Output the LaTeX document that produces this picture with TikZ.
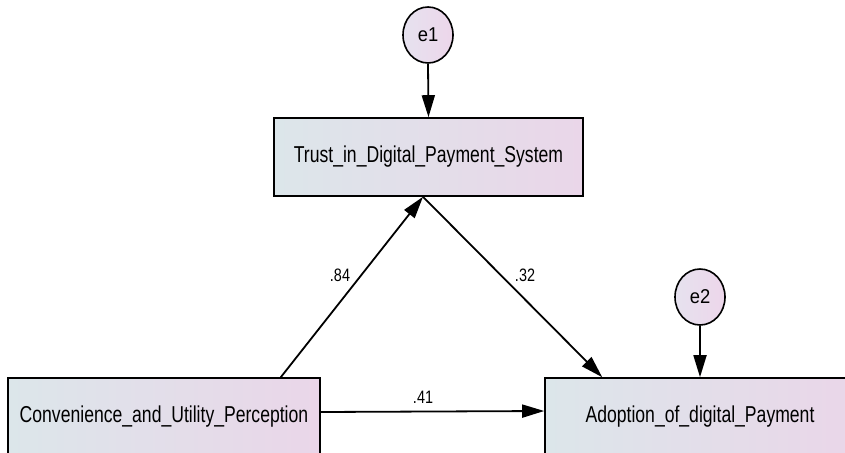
\documentclass[tikz,border=0pt]{standalone}
\usepackage{fontspec}
\setmainfont{Liberation Sans}
\newfontfamily\narrowfont[FakeStretch=0.765]{Liberation Sans}
\newfontfamily\labelfont[FakeStretch=0.8]{Liberation Sans}
\newfontfamily\errfont[FakeStretch=0.92]{Liberation Sans}
\usetikzlibrary{arrows.meta,shapes.geometric}

\definecolor{boxL}{HTML}{DCE6EA}
\definecolor{boxR}{HTML}{EAD6E9}
\definecolor{ellL}{HTML}{E6E2EF}
\definecolor{ellR}{HTML}{EDD6EA}

\tikzset{
  varbox/.style={draw=black, line width=1.6pt, rectangle, left color=boxL, right color=boxR,
    minimum width=309pt, minimum height=78pt, inner sep=0pt,
    font=\narrowfont\fontsize{23}{26}\selectfont},
  errvar/.style={draw=black, line width=1.6pt, ellipse, left color=ellL, right color=ellR,
    minimum width=50pt, minimum height=56pt, inner sep=0pt,
    font=\errfont\fontsize{20}{22}\selectfont},
  path/.style={draw=black, line width=1.8pt, -{Triangle[length=22pt,width=13pt]}},
  coef/.style={font=\labelfont\fontsize{18}{20}\selectfont, inner sep=0pt}
}

\begin{document}
\begin{tikzpicture}[x=1pt, y=-1pt]
  \useasboundingbox (0,0) rectangle (845,452);
  \fill[white] (0,0) rectangle (845,452);

  % observed variables
  \node[varbox] (trust) at (428.5,157) {Trust\_in\_Digital\_Payment\_System};
  \node[varbox, minimum width=312pt] (conv) at (164,417) {Convenience\_and\_Utility\_Perception};
  \node[varbox, minimum width=310pt] (adopt) at (700,417) {Adoption\_of\_digital\_Payment};

  % error terms
  \node[errvar] (e1) at (428,35) {e1};
  \node[errvar] (e2) at (700,297) {e2};

  % paths
  \draw[path] (e1.south) -- (trust.north);
  \draw[path] (e2.south) -- (adopt.north);
  \draw[path] ([xshift=-40pt]conv.north east) -- ([xshift=-5.5pt]trust.south);
  \draw[path] ([xshift=-5.5pt]trust.south) -- ([xshift=58pt]adopt.north west);
  \draw[path] ([yshift=5pt]conv.east) -- ([yshift=6pt]adopt.west);

  % path coefficients
  \node[coef] (c84) at (340,275) {.84};
  \node[coef] (c32) at (525,275) {.32};
  \node[coef] (c41) at (423,397) {.41};
\end{tikzpicture}
\end{document}
